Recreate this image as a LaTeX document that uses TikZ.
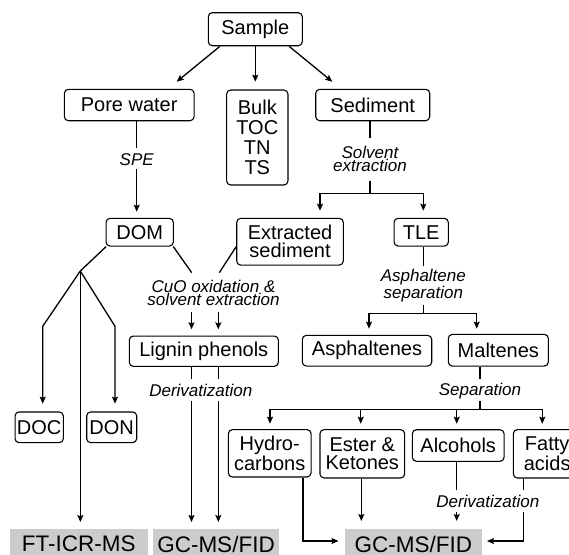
\documentclass[tikz,border=0pt]{standalone}
\usepackage{fontspec}
\setmainfont{Liberation Sans}
\usetikzlibrary{arrows.meta,calc}
\definecolor{gboxc}{RGB}{204,204,204}
\begin{document}
\begin{tikzpicture}[x=1pt,y=-1pt,
  box/.style={draw, rounded corners=4pt, line width=1.1pt, inner sep=0pt, align=center, font=\fontsize{20}{18}\selectfont},
  lab/.style={inner sep=0pt, align=center, font=\fontsize{17}{13.5}\selectfont\itshape},
  gray/.style={fill=gboxc, inner sep=0pt, font=\fontsize{22.5}{24}\selectfont},
  ln/.style={line width=1.3pt},
  arr/.style={line width=1.3pt, -{Stealth[length=7pt,width=6pt,inset=1.2pt]}},
]
\useasboundingbox (0,0) rectangle (569,554);

% boxes
\node[box, minimum width=94, minimum height=33] (sample) at (255.3,29.2) {Sample};
\node[box, minimum width=129.7, minimum height=31.4] (pore) at (129.2,105) {Pore water};
\node[box, minimum width=61.3, minimum height=95, font=\fontsize{20}{20}\selectfont] (bulk) at (257.3,137.5) {Bulk\\TOC\\TN\\TS};
\node[box, minimum width=114, minimum height=31.4] (sed) at (372.7,105) {Sediment};
\node[box, minimum width=67.3, minimum height=27.7] (dom) at (139.7,232.2) {DOM};
\node[box, minimum width=106.6, minimum height=46.7] (extr) at (290,241.7) {Extracted\\sediment};
\node[box, minimum width=54.3, minimum height=27.7] (tle) at (421.2,232.2) {TLE};
\node[box, minimum width=149, minimum height=30.3] (lig) at (203.8,351.2) {Lignin phenols};
\node[box, minimum width=129.4, minimum height=30.7] (asph) at (367,350.7) {Asphaltenes};
\node[box, minimum width=100, minimum height=31.7] (malt) at (498.3,350.2) {Maltenes};
\node[box, minimum width=48.3, minimum height=30.7] (doc) at (39.2,427.3) {DOC};
\node[box, minimum width=50, minimum height=30.7] (don) at (111.7,427.3) {DON};
\node[box, minimum width=82.7, minimum height=47.3] (hyd) at (269.7,453.3) {Hydro-\\carbons};
\node[box, minimum width=84.7, minimum height=48.3] (est) at (362.3,453.8) {Ester \&\\Ketones};
\node[box, minimum width=91.7, minimum height=31.6] (alc) at (458.2,445.5) {Alcohols};
\node[box, minimum width=67.7, minimum height=48.3] (fat) at (547.2,453.8) {Fatty\\acids};

% instrument labels
\node[gray, minimum width=137.7, minimum height=29.7] (ft) at (78.8,544) {FT-ICR-MS};
\node[gray, minimum width=126, minimum height=29.7] (gc1) at (216,544) {GC-MS/FID};
\node[gray, minimum width=136.7, minimum height=29.7] (gc2) at (413.3,544) {GC-MS/FID};

% process labels
\node[lab] (spe) at (136.7,159.3) {SPE};
\node[lab] (solv) at (370,158.8) {Solvent\\extraction};
\node[lab] (cuo) at (213.5,293) {CuO oxidation \&\\solvent extraction};
\node[lab] (der1) at (200.8,390.3) {Derivatization};
\node[lab] (asep) at (423.3,285.5) {Asphaltene\\separation};
\node[lab] (sep) at (480,391) {Separation};
\node[lab] (der2) at (487.8,501.5) {Derivatization};

% coordinates
\coordinate (pA) at (176.7,81.7);
\coordinate (bA) at (255.3,81.7);
\coordinate (sA) at (332.3,81.7);
\coordinate (p1) at (136.7,148.3);
\coordinate (p2) at (136.7,169.3);
\coordinate (p3) at (136.7,211.7);
\coordinate (s1) at (370,138.3);
\coordinate (s2) at (370,180.7);
\coordinate (s3) at (370,193.3);
\coordinate (e1) at (320,210.7);
\coordinate (e2) at (423.3,210.7);
\coordinate (j) at (80.3,271);
\coordinate (jl) at (42.7,326.3);
\coordinate (jr) at (115,326.3);
\coordinate (jlA) at (42.7,403.7);
\coordinate (jrA) at (115,403.7);
\coordinate (ftA) at (80.3,522);
\coordinate (c1) at (191.7,272.7);
\coordinate (c2) at (219.3,272.7);
\coordinate (l1t) at (191.5,312);
\coordinate (l1b) at (191.5,329.3);
\coordinate (l2t) at (218.3,312);
\coordinate (l2b) at (218.3,329.3);
\coordinate (m1) at (191.5,378.7);
\coordinate (m2) at (218.3,378.7);
\coordinate (m1s) at (191.5,401.3);
\coordinate (m2s) at (218.3,401.3);
\coordinate (m1A) at (191.5,522);
\coordinate (m2A) at (218.3,522);
\coordinate (t1) at (423.3,265.5);
\coordinate (t2) at (423.3,305.3);
\coordinate (t3) at (423.3,313.7);
\coordinate (aA) at (369,328.7);
\coordinate (mA) at (476.7,328.7);
\coordinate (q1) at (480,378.7);
\coordinate (q2) at (480,401);
\coordinate (q3) at (480,409.7);
\coordinate (hA) at (270,423.7);
\coordinate (eA) at (360.7,423.7);
\coordinate (alA) at (456.7,423.7);
\coordinate (fA) at (542.3,423.7);
\coordinate (h1) at (303,541);
\coordinate (h2) at (338.5,541);
\coordinate (esA) at (361.3,521);
\coordinate (al1) at (456.7,490.3);
\coordinate (al2) at (456.7,512);
\coordinate (al3) at (456.7,521);
\coordinate (f1) at (523.3,490.3);
\coordinate (f2) at (523.3,512);
\coordinate (f3) at (523.3,541);
\coordinate (f4) at (487,541);

% connectors from Sample
\draw[arr] ($(sample.south)+(-35.3,0)$) -- (pA);
\draw[arr] (sample.south) -- (bA);
\draw[arr] ($(sample.south)+(33.7,0)$) -- (sA);

% pore water branch
\draw[ln] (pore.south -| p1) -- (p1);
\draw[arr] (p2) -- (p3);
\draw[ln] ($(dom.south west)+(0.6,0)$) -- (j);
\draw[arr] (j) -- (jl) -- (jlA);
\draw[arr] (j) -- (jr) -- (jrA);
\draw[arr] (j) -- (ftA);

% sediment branch
\draw[ln] (sed.south -| s1) -- (s1);
\draw[ln] (s2) -- (s3);
\draw[arr] (s3) -| (e1);
\draw[arr] (s3) -| (e2);

% lignin
\draw[ln] ($(dom.south east)+(-0.6,0)$) -- (c1);
\draw[ln] ($(extr.west)+(0,5)$) -- (c2);
\draw[arr] (l1t) -- (l1b);
\draw[arr] (l2t) -- (l2b);
\draw[ln] (lig.south -| m1) -- (m1);
\draw[ln] (lig.south -| m2) -- (m2);
\draw[arr] (m1s) -- (m1A);
\draw[arr] (m2s) -- (m2A);

% TLE
\draw[ln] (tle.south -| t1) -- (t1);
\draw[ln] (t2) -- (t3);
\draw[arr] (t3) -| (aA);
\draw[arr] (t3) -| (mA);

% maltenes
\draw[ln] (malt.south -| q1) -- (q1);
\draw[ln] (q2) -- (q3);
\draw[arr] (q3) -| (hA);
\draw[arr] (q3) -| (eA);
\draw[arr] (q3) -| (alA);
\draw[arr] (q3) -| (fA);

% fractions to GC-MS
\draw[arr] (hyd.south -| h1) -- (h1) -- (h2);
\draw[arr] (est.south -| esA) -- (esA);
\draw[ln] (alc.south -| al1) -- (al1);
\draw[arr] (al2) -- (al3);
\draw[ln] (fat.south -| f1) -- (f1);
\draw[arr] (f2) -- (f3) -- (f4);
\end{tikzpicture}
\end{document}
